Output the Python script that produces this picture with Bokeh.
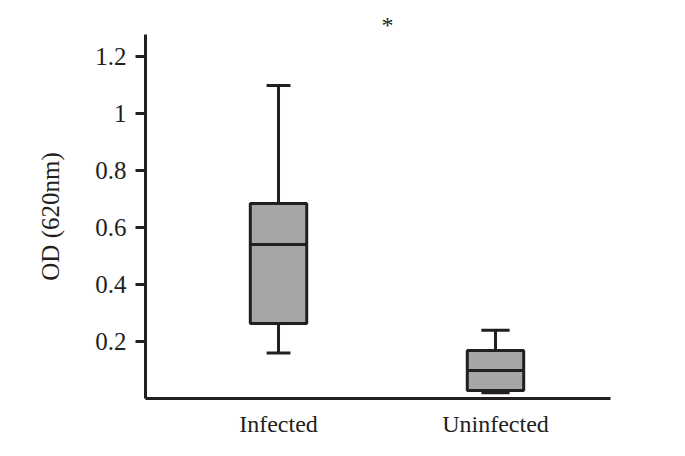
from bokeh.plotting import figure
from bokeh.models import ColumnDataSource, FixedTicker, Range1d, Title
from bokeh.embed import file_html
from bokeh.resources import INLINE

categories = ["Infected", "Uninfected"]
positions = [1, 2]
whisker_low = [0.16, 0.02]
q1 = [0.263, 0.028]
median = [0.54, 0.098]
q3 = [0.684, 0.168]
whisker_high = [1.098, 0.239]
y_ticks = [0.2, 0.4, 0.6, 0.8, 1.0, 1.2]
y_tick_labels = ["0.2", "0.4", "0.6", "0.8", "1", "1.2"]
significance = "*"

INK = "#231f20"
FILL = "#a6a6a6"
FONT = "Liberation Serif"

box_w = 0.26
cap_w = [0.11, 0.13]

src = ColumnDataSource(dict(
    x=positions, lo=whisker_low, q1=q1, med=median, q3=q3, hi=whisker_high,
    x0=[p - c / 2 for p, c in zip(positions, cap_w)],
    x1=[p + c / 2 for p, c in zip(positions, cap_w)],
    bx0=[p - box_w / 2 for p in positions],
    bx1=[p + box_w / 2 for p in positions],
))

p = figure(width=685, height=450, frame_width=465, frame_height=364,
           x_range=Range1d(0.387, 2.53), y_range=Range1d(0, 1.277),
           output_backend="svg", toolbar_location=None,
           min_border_left=145, min_border_right=75,
           min_border_top=34, min_border_bottom=52)
p.outline_line_color = None
p.grid.visible = False
p.background_fill_color = "white"
p.border_fill_color = "white"

# whiskers
p.segment(x0="x", y0="q3", x1="x", y1="hi", source=src, line_color=INK, line_width=3)
p.segment(x0="x", y0="lo", x1="x", y1="q1", source=src, line_color=INK, line_width=3)
p.segment(x0="x0", y0="hi", x1="x1", y1="hi", source=src, line_color=INK, line_width=3)
p.segment(x0="x0", y0="lo", x1="x1", y1="lo", source=src, line_color=INK, line_width=3)
# boxes
p.quad(left="bx0", right="bx1", bottom="q1", top="q3", source=src,
       fill_color=FILL, line_color=INK, line_width=3)
p.segment(x0="bx0", y0="med", x1="bx1", y1="med", source=src, line_color=INK, line_width=3)

# axes
p.xaxis.ticker = FixedTicker(ticks=positions)
p.xaxis.major_label_overrides = {pos: c for pos, c in zip(positions, categories)}
p.xaxis.major_tick_line_color = None
p.xaxis.minor_tick_line_color = None
p.xaxis.major_label_standoff = 6
p.xaxis.major_label_text_font_size = "24px"
p.yaxis.ticker = FixedTicker(ticks=y_ticks)
p.yaxis.major_label_overrides = {t: l for t, l in zip(y_ticks, y_tick_labels)}
p.yaxis.major_tick_out = 10
p.yaxis.major_tick_in = 0
p.yaxis.major_tick_line_width = 3
p.yaxis.major_tick_line_color = INK
p.yaxis.minor_tick_line_color = None
p.yaxis.major_label_standoff = 9
p.yaxis.major_label_text_font_size = "25px"
p.yaxis.axis_label = "OD (620nm)"
p.yaxis.axis_label_standoff = 28
p.yaxis.axis_label_text_font_size = "25px"
for ax in (p.xaxis[0], p.yaxis[0]):
    ax.axis_line_width = 3
    ax.axis_line_color = INK
    ax.major_label_text_font = FONT
    ax.major_label_text_color = INK
    ax.axis_label_text_font = FONT
    ax.axis_label_text_font_style = "normal"
    ax.axis_label_text_color = INK

t = Title(text=significance, text_font=FONT, text_font_size="24px",
          text_color=INK, text_font_style="normal", align="left",
          offset=236, standoff=-7)
p.add_layout(t, "above")

open("out.html", "w").write(file_html(p, INLINE))
